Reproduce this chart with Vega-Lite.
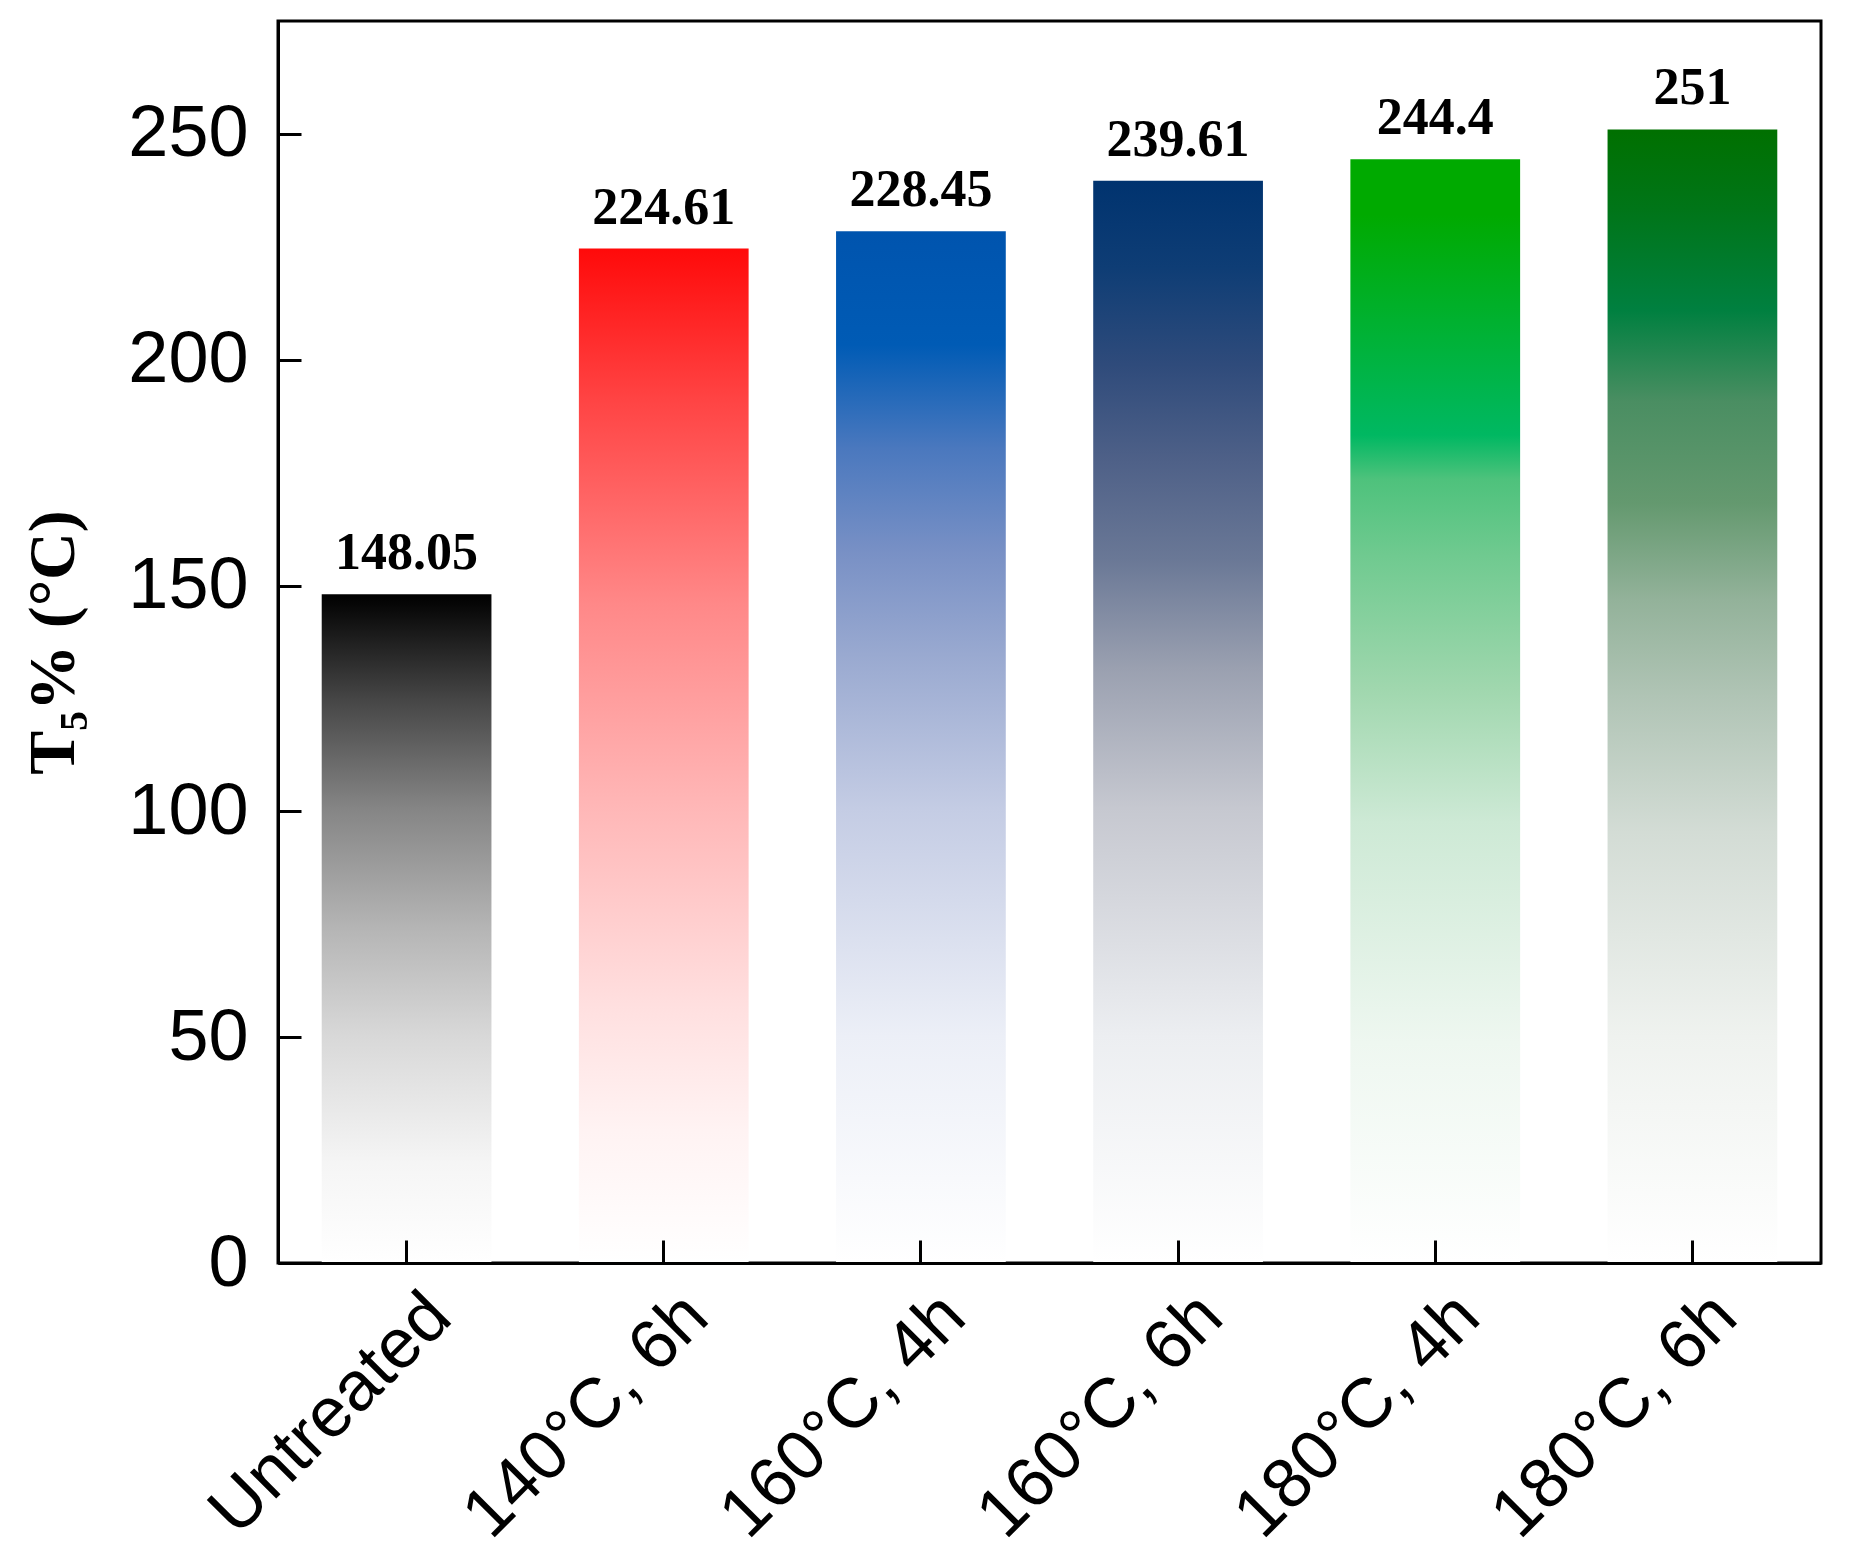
{
  "$schema": "https://vega.github.io/schema/vega-lite/v6.json",
  "width": 1543,
  "height": 1242,
  "autosize": "none",
  "padding": {"left": 278, "top": 21, "right": 28, "bottom": 298},
  "background": "white",
  "config": {
    "view": {"stroke": "black", "strokeWidth": 3},
    "axis": {"grid": false, "domainColor": "black", "domainWidth": 3, "tickColor": "black", "tickWidth": 3, "labelColor": "black", "labelLimit": 0}
  },
  "data": {
    "values": [
      {"treatment": "Untreated", "t5": 148.05},
      {"treatment": "140°C, 6h", "t5": 224.61},
      {"treatment": "160°C, 4h", "t5": 228.45},
      {"treatment": "160°C, 6h", "t5": 239.61},
      {"treatment": "180°C, 4h", "t5": 244.4},
      {"treatment": "180°C, 6h", "t5": 251}
    ]
  },
  "encoding": {
    "x": {
      "field": "treatment",
      "type": "nominal",
      "sort": null,
      "title": null,
      "scale": {"paddingInner": 0.34, "paddingOuter": 0.17},
      "axis": {
        "zindex": 1,
        "ticks": true,
        "labelAngle": -45,
        "labelAlign": "right",
        "labelBaseline": "middle",
        "labelFont": "Liberation Sans",
        "labelFontSize": 70,
        "labelOffset": 33,
        "labelPadding": 65,
        "tickSize": -23
      }
    },
    "y": {
      "field": "t5",
      "type": "quantitative",
      "title": "T₅% (°C)",
      "scale": {"domain": [0, 275], "nice": false},
      "axis": {
        "zindex": 1,
        "ticks": true,
        "values": [0, 50, 100, 150, 200, 250],
        "labelFont": "Liberation Sans",
        "labelFontSize": 72,
        "labelPadding": 53,
        "tickSize": -23,
        "titleFont": "Liberation Serif",
        "titleFontWeight": "bold",
        "titleFontSize": 66,
        "titlePadding": 40
      }
    }
  },
  "layer": [
    {
      "transform": [{"filter": "datum.treatment == 'Untreated'"}],
      "mark": {"type": "bar", "color": {"gradient": "linear", "x1": 0, "y1": 0, "x2": 0, "y2": 1, "stops": [
        {"offset": 0, "color": "#000000"},
        {"offset": 0.16, "color": "#474747"},
        {"offset": 0.32, "color": "#858585"},
        {"offset": 0.5, "color": "#b5b5b5"},
        {"offset": 0.66, "color": "#d8d8d8"},
        {"offset": 0.85, "color": "#f5f5f5"},
        {"offset": 1, "color": "#ffffff"}
      ]}}
    },
    {
      "transform": [{"filter": "datum.treatment == '140°C, 6h'"}],
      "mark": {"type": "bar", "color": {"gradient": "linear", "x1": 0, "y1": 0, "x2": 0, "y2": 1, "stops": [
        {"offset": 0, "color": "#ff0a0a"},
        {"offset": 0.15, "color": "#ff4444"},
        {"offset": 0.35, "color": "#ff8888"},
        {"offset": 0.555, "color": "#ffb8b8"},
        {"offset": 0.75, "color": "#ffe0e0"},
        {"offset": 0.87, "color": "#fff3f3"},
        {"offset": 1, "color": "#ffffff"}
      ]}}
    },
    {
      "transform": [{"filter": "datum.treatment == '160°C, 4h'"}],
      "mark": {"type": "bar", "color": {"gradient": "linear", "x1": 0, "y1": 0, "x2": 0, "y2": 1, "stops": [
        {"offset": 0, "color": "#0054ae"},
        {"offset": 0.11, "color": "#005bb5"},
        {"offset": 0.21, "color": "#4a78be"},
        {"offset": 0.31, "color": "#7890c5"},
        {"offset": 0.41, "color": "#99a9d0"},
        {"offset": 0.56, "color": "#c4cce4"},
        {"offset": 0.78, "color": "#eceff7"},
        {"offset": 1, "color": "#ffffff"}
      ]}}
    },
    {
      "transform": [{"filter": "datum.treatment == '160°C, 6h'"}],
      "mark": {"type": "bar", "color": {"gradient": "linear", "x1": 0, "y1": 0, "x2": 0, "y2": 1, "stops": [
        {"offset": 0, "color": "#00336f"},
        {"offset": 0.08, "color": "#0e3d75"},
        {"offset": 0.17, "color": "#2f4b7b"},
        {"offset": 0.26, "color": "#4f6188"},
        {"offset": 0.35, "color": "#6a7896"},
        {"offset": 0.45, "color": "#9aa0b0"},
        {"offset": 0.58, "color": "#c6c8d0"},
        {"offset": 0.79, "color": "#eceef1"},
        {"offset": 1, "color": "#ffffff"}
      ]}}
    },
    {
      "transform": [{"filter": "datum.treatment == '180°C, 4h'"}],
      "mark": {"type": "bar", "color": {"gradient": "linear", "x1": 0, "y1": 0, "x2": 0, "y2": 1, "stops": [
        {"offset": 0, "color": "#00aa00"},
        {"offset": 0.05, "color": "#00aa00"},
        {"offset": 0.16, "color": "#00b236"},
        {"offset": 0.25, "color": "#00b862"},
        {"offset": 0.29, "color": "#4ec27c"},
        {"offset": 0.36, "color": "#70ca90"},
        {"offset": 0.48, "color": "#a0d7ae"},
        {"offset": 0.6, "color": "#cde9d5"},
        {"offset": 0.8, "color": "#eef7f0"},
        {"offset": 1, "color": "#ffffff"}
      ]}}
    },
    {
      "transform": [{"filter": "datum.treatment == '180°C, 6h'"}],
      "mark": {"type": "bar", "color": {"gradient": "linear", "x1": 0, "y1": 0, "x2": 0, "y2": 1, "stops": [
        {"offset": 0, "color": "#007000"},
        {"offset": 0.07, "color": "#007518"},
        {"offset": 0.16, "color": "#008040"},
        {"offset": 0.24, "color": "#4a8e62"},
        {"offset": 0.33, "color": "#64996f"},
        {"offset": 0.415, "color": "#93b29a"},
        {"offset": 0.5, "color": "#b0c4b5"},
        {"offset": 0.62, "color": "#d3dcd5"},
        {"offset": 0.8, "color": "#eff2ef"},
        {"offset": 1, "color": "#ffffff"}
      ]}}
    },
    {
      "mark": {"type": "text", "font": "Liberation Serif", "fontWeight": "bold", "fontSize": 52, "baseline": "alphabetic", "dy": -25, "color": "black"},
      "encoding": {"text": {"field": "t5", "type": "quantitative"}}
    }
  ]
}
